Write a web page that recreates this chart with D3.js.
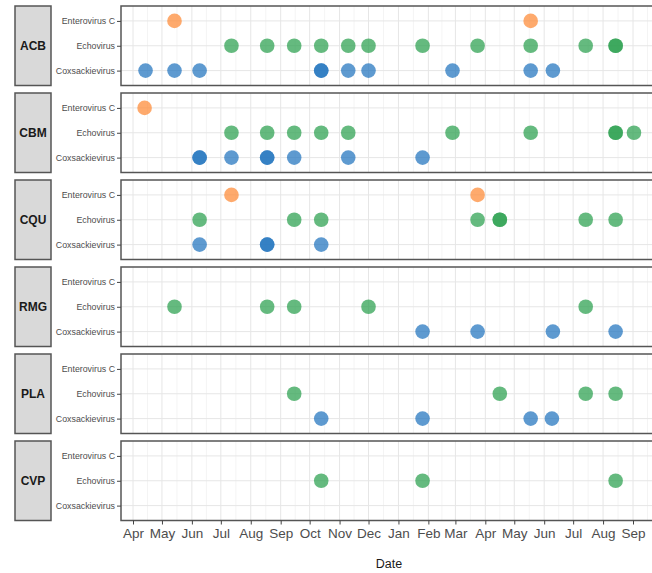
<!DOCTYPE html>
<html>
<head>
<meta charset="utf-8">
<script src="https://cdn.jsdelivr.net/npm/d3@7"></script>
<style>
  html, body { margin: 0; padding: 0; background: #fff; }
  svg { display: block; font-family: "Liberation Sans", Arial, sans-serif; }
</style>
</head>
<body>
<svg id="chart" width="652" height="573"></svg>
<script>
// ---------- data ----------
const sites = ["ACB", "CBM", "CQU", "RMG", "PLA", "CVP"];
const viruses = ["Enterovirus C", "Echovirus", "Coxsackievirus"];
const virusColors = ["#fd8d3c", "#31a354", "#2878c0"];
const axisStart = "2018-04-01";
const axisEnd = "2019-09-01";

// detections per site: [virus, sampling date]
const acb = [
  ["Enterovirus C", "2018-05-14"], ["Enterovirus C", "2019-05-18"],
  ["Echovirus", "2018-07-12"], ["Echovirus", "2018-08-18"], ["Echovirus", "2018-09-15"],
  ["Echovirus", "2018-10-13"], ["Echovirus", "2018-11-10"], ["Echovirus", "2018-12-01"],
  ["Echovirus", "2019-01-26"], ["Echovirus", "2019-03-24"], ["Echovirus", "2019-05-18"],
  ["Echovirus", "2019-07-14"], ["Echovirus", "2019-08-14"], ["Echovirus", "2019-08-14"],
  ["Coxsackievirus", "2018-04-14"], ["Coxsackievirus", "2018-05-14"], ["Coxsackievirus", "2018-06-09"],
  ["Coxsackievirus", "2018-10-13"], ["Coxsackievirus", "2018-10-13"], ["Coxsackievirus", "2018-11-10"],
  ["Coxsackievirus", "2018-12-01"], ["Coxsackievirus", "2019-02-26"], ["Coxsackievirus", "2019-05-18"],
  ["Coxsackievirus", "2019-06-10"]
];
const cbm = [
  ["Enterovirus C", "2018-04-13"],
  ["Echovirus", "2018-07-12"], ["Echovirus", "2018-08-18"], ["Echovirus", "2018-09-15"],
  ["Echovirus", "2018-10-13"], ["Echovirus", "2018-11-10"], ["Echovirus", "2019-02-26"],
  ["Echovirus", "2019-05-18"], ["Echovirus", "2019-08-14"], ["Echovirus", "2019-08-14"],
  ["Echovirus", "2019-09-02"],
  ["Coxsackievirus", "2018-06-09"], ["Coxsackievirus", "2018-06-09"], ["Coxsackievirus", "2018-07-12"],
  ["Coxsackievirus", "2018-08-18"], ["Coxsackievirus", "2018-08-18"], ["Coxsackievirus", "2018-09-15"],
  ["Coxsackievirus", "2018-11-10"], ["Coxsackievirus", "2019-01-26"]
];
const cqu = [
  ["Enterovirus C", "2018-07-12"], ["Enterovirus C", "2019-03-24"],
  ["Echovirus", "2018-06-09"], ["Echovirus", "2018-09-15"], ["Echovirus", "2018-10-13"],
  ["Echovirus", "2019-03-24"], ["Echovirus", "2019-04-16"], ["Echovirus", "2019-04-16"],
  ["Echovirus", "2019-07-14"], ["Echovirus", "2019-08-14"],
  ["Coxsackievirus", "2018-06-09"], ["Coxsackievirus", "2018-08-18"], ["Coxsackievirus", "2018-08-18"],
  ["Coxsackievirus", "2018-10-13"]
];
const rmg = [
  ["Echovirus", "2018-05-14"], ["Echovirus", "2018-08-18"], ["Echovirus", "2018-09-15"],
  ["Echovirus", "2018-12-01"], ["Echovirus", "2019-07-14"],
  ["Coxsackievirus", "2019-01-26"], ["Coxsackievirus", "2019-03-24"], ["Coxsackievirus", "2019-06-10"],
  ["Coxsackievirus", "2019-08-14"]
];
const pla = [
  ["Echovirus", "2018-09-15"], ["Echovirus", "2019-04-16"], ["Echovirus", "2019-07-14"],
  ["Echovirus", "2019-08-14"],
  ["Coxsackievirus", "2018-10-13"], ["Coxsackievirus", "2019-01-26"], ["Coxsackievirus", "2019-05-18"],
  ["Coxsackievirus", "2019-06-09"]
];
const cvp = [
  ["Echovirus", "2018-10-13"], ["Echovirus", "2019-01-26"], ["Echovirus", "2019-08-14"]
];
const detections = [acb, cbm, cqu, rmg, pla, cvp];

// ---------- layout ----------
const svg = d3.select("#chart");
const parse = d3.timeParse("%Y-%m-%d");
const panelLeft = 121, panelRight = 662;
const stripLeft = 15, stripRight = 51;
const panelTop0 = 6, panelPitch = 87, panelH = 79.5;

const x = d3.scaleTime()
  .domain([parse(axisStart), parse(axisEnd)])
  .range([133, 633]);

const color = d3.scaleOrdinal().domain(viruses).range(virusColors);

// month gridlines spanning the visible panel
const gridMonths = d3.timeMonth.range(parse("2018-02-01"), parse("2019-12-01"));
const majorX = gridMonths.map(d => x(d));
const minorX = [];
for (let i = 0; i < majorX.length - 1; i++) minorX.push((majorX[i] + majorX[i + 1]) / 2);

const defs = svg.append("defs");

sites.forEach((site, i) => {
  const top = panelTop0 + i * panelPitch;
  const y = d3.scalePoint().domain(viruses).range([top, top + panelH]).padding(0.6);
  const g = svg.append("g");

  const clipId = "clip" + i;
  defs.append("clipPath").attr("id", clipId)
    .append("rect").attr("x", panelLeft).attr("y", top)
    .attr("width", panelRight - panelLeft).attr("height", panelH);

  const inner = g.append("g").attr("clip-path", `url(#${clipId})`);
  inner.append("rect").attr("x", panelLeft).attr("y", top)
    .attr("width", panelRight - panelLeft).attr("height", panelH).attr("fill", "#fff");

  inner.selectAll(".minor").data(minorX).join("line")
    .attr("x1", d => d).attr("x2", d => d).attr("y1", top).attr("y2", top + panelH)
    .attr("stroke", "#f1f1f1").attr("stroke-width", 0.8);
  inner.selectAll(".major").data(majorX).join("line")
    .attr("x1", d => d).attr("x2", d => d).attr("y1", top).attr("y2", top + panelH)
    .attr("stroke", "#e6e6e6").attr("stroke-width", 1);
  inner.selectAll(".hgrid").data(viruses).join("line")
    .attr("x1", panelLeft).attr("x2", panelRight).attr("y1", d => y(d)).attr("y2", d => y(d))
    .attr("stroke", "#e6e6e6").attr("stroke-width", 1);

  inner.selectAll("circle").data(detections[i]).join("circle")
    .attr("cx", d => x(parse(d[1])))
    .attr("cy", d => y(d[0]))
    .attr("r", 7.3)
    .attr("fill", d => color(d[0]))
    .attr("fill-opacity", 0.75);

  // panel border
  g.append("rect").attr("x", panelLeft).attr("y", top)
    .attr("width", panelRight - panelLeft).attr("height", panelH)
    .attr("fill", "none").attr("stroke", "#555").attr("stroke-width", 1.5);

  // strip (left)
  g.append("rect").attr("x", stripLeft).attr("y", top)
    .attr("width", stripRight - stripLeft).attr("height", panelH)
    .attr("fill", "#d9d9d9").attr("stroke", "#555").attr("stroke-width", 1.5);
  g.append("text").attr("x", (stripLeft + stripRight) / 2).attr("y", top + panelH / 2)
    .attr("text-anchor", "middle").attr("dy", "0.36em")
    .attr("font-size", 12).attr("font-weight", "bold").attr("fill", "#1a1a1a")
    .text(site);

  // y axis
  const ya = g.append("g").attr("transform", `translate(${panelLeft},0)`)
    .call(d3.axisLeft(y).tickSize(4).tickPadding(2));
  ya.select(".domain").remove();
  ya.selectAll(".tick line").attr("stroke", "#444");
  ya.selectAll(".tick text").attr("font-size", 8.8).attr("fill", "#4d4d4d")
    .attr("font-family", "'Liberation Sans', Arial, sans-serif");
});

// x axis under last panel
const bottom = panelTop0 + (sites.length - 1) * panelPitch + panelH;
const xa = svg.append("g").attr("transform", `translate(0,${bottom})`)
  .call(d3.axisBottom(x).ticks(d3.timeMonth.every(1)).tickFormat(d3.timeFormat("%b"))
    .tickSize(4).tickPadding(4));
xa.select(".domain").remove();
xa.selectAll(".tick line").attr("stroke", "#444");
xa.selectAll(".tick text").attr("font-size", 13.5).attr("fill", "#4d4d4d")
  .attr("font-family", "'Liberation Sans', Arial, sans-serif");

svg.append("text").attr("x", 389).attr("y", 568).attr("text-anchor", "middle")
  .attr("font-size", 12.5).attr("fill", "#1a1a1a").text("Date");
</script>
</body>
</html>
